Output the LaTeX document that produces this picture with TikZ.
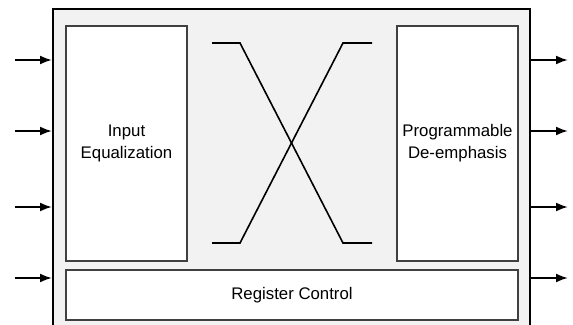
\documentclass[tikz,border=0pt]{standalone}
\usepackage{fontspec}
\setmainfont{Liberation Sans}
\usetikzlibrary{arrows.meta}
\definecolor{chipgray}{HTML}{F2F2F2}
\definecolor{boxline}{HTML}{404040}
\begin{document}
\begin{tikzpicture}[x=1pt, y=-1pt,
    chipbox/.style={rectangle, draw=black, line width=2pt, fill=chipgray, minimum width=477pt, minimum height=331pt, inner sep=0pt},
    blkbox/.style={rectangle, draw=boxline, line width=1.2pt, fill=white, align=center, inner sep=0pt, font=\fontsize{16.8}{22}\selectfont},
    sigarr/.style={-{Latex[length=12pt,width=9pt]}, line width=2pt},
    xline/.style={line width=1.6pt, line join=miter}
]
\useasboundingbox (0,0) rectangle (573,324);

% Chip outline (runs past the bottom edge)
\node[chipbox] (chip) at (291.5, 174.5) {};

% Blocks
\node[blkbox, minimum width=121pt, minimum height=235pt] (eq) at (126.5, 143.5) {Input\\Equalization};
\node[blkbox, minimum width=121pt, minimum height=235pt] (demph) at (457.5, 143.5) {Programmable\\De-emphasis};
\node[blkbox, minimum width=452pt, minimum height=50pt] (reg) at (292, 295) {Register Control};

% Crosspoint
\draw[xline] (212, 43) -- (240, 43) -- (343, 243) -- (372, 243);
\draw[xline] (212, 243) -- (240, 243) -- (343, 43) -- (372, 43);

% Inputs and outputs
\foreach \i/\y in {1/60, 2/131, 3/207, 4/278} {
  \coordinate (in\i) at (15, \y);
  \coordinate (out\i) at (568, \y);
  \draw[sigarr] (in\i) -- (in\i -| chip.west);
  \draw[sigarr] (out\i -| chip.east) -- (out\i);
}

\end{tikzpicture}
\end{document}
